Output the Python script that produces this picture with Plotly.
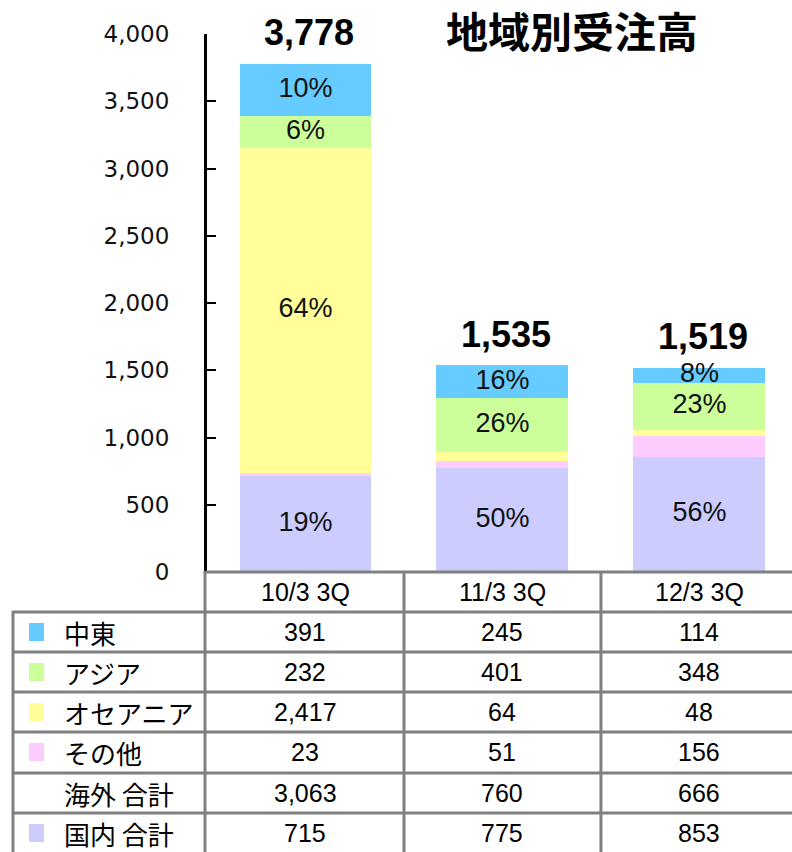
import plotly.graph_objects as go

categories = ["10/3 3Q", "11/3 3Q", "12/3 3Q"]
middle_east = [391, 245, 114]
asia = [232, 401, 348]
oceania = [2417, 64, 48]
other = [23, 51, 156]
overseas_total = [3063, 760, 666]
domestic_total = [715, 775, 853]

title_text = "地域別受注高"
y_ticks = [0, 500, 1000, 1500, 2000, 2500, 3000, 3500, 4000]

# stack order bottom -> top
stack = [
    ("国内 合計", domestic_total, "#CCCCFF"),
    ("その他", other, "#FFCCFF"),
    ("オセアニア", oceania, "#FFFF99"),
    ("アジア", asia, "#CCFF99"),
    ("中東", middle_east, "#66CCFF"),
]
show_pct = {"国内 合計": 0, "その他": None, "オセアニア": 10, "アジア": 0, "中東": 0}

totals = [d + o for d, o in zip(domestic_total, overseas_total)]

W, H = 792, 852
ML, MR, MT, MB = 207, 0, 34, 280
PH = H - MT - MB
PW = W - ML - MR


def py(p):
    return (H - MB - p) / PH


def px(p):
    return (p - ML) / PW


fig = go.Figure()
cum = [0, 0, 0]
tx, ty, tt = [], [], []
for name, vals, col in stack:
    fig.add_trace(go.Bar(x=categories, y=vals, name=name, marker=dict(color=col, line=dict(width=0)),
                         showlegend=False, hoverinfo="skip"))
    thr = show_pct[name]
    for i, v in enumerate(vals):
        pct = v / totals[i] * 100
        if thr is not None and pct >= thr:
            tx.append(categories[i])
            ty.append(cum[i] + v / 2)
            tt.append(f"{pct:.0f}%")
        cum[i] += v

fig.add_trace(go.Scatter(x=tx, y=ty, text=tt, mode="text", showlegend=False, hoverinfo="skip",
                         cliponaxis=False,
                         textfont=dict(family="Liberation Sans, Arial", size=27, color="#111")))

# totals above bars
for c, t in zip(categories, totals):
    fig.add_annotation(x=c, y=t, xref="x", yref="y", text=f"<b>{t:,}</b>", showarrow=False,
                       yanchor="middle", yshift=31, xshift=4,
                       font=dict(family="Liberation Sans, Arial", size=36, color="#000"))

# title
fig.add_annotation(x=px(572), y=py(30), xref="paper", yref="paper", text=f"<b>{title_text}</b>",
                   showarrow=False, xanchor="center", yanchor="middle",
                   font=dict(family="Noto Sans CJK JP", size=42, color="#000"))

# ---- data table ----
grid = "#808080"
lw = 3
row_lines = [572, 612, 652, 692, 732, 773, 813]
header_y = 592
rows = [
    ("中東", middle_east, "#66CCFF"),
    ("アジア", asia, "#CCFF99"),
    ("オセアニア", oceania, "#FFFF99"),
    ("その他", other, "#FFCCFF"),
    ("海外 合計", overseas_total, None),
    ("国内 合計", domestic_total, "#CCCCFF"),
]
row_centers = [632, 672, 712, 752, 793, 833]

fig.add_shape(type="line", xref="paper", yref="paper", x0=px(206), x1=1.02, y0=py(572), y1=py(572),
              line=dict(color=grid, width=lw))
for r in row_lines[1:]:
    fig.add_shape(type="line", xref="paper", yref="paper", x0=px(12), x1=1.02, y0=py(r), y1=py(r),
                  line=dict(color=grid, width=lw))
fig.add_shape(type="line", xref="paper", yref="paper", x0=px(13), x1=px(13), y0=py(611), y1=py(H + 5),
              line=dict(color=grid, width=lw))
fig.add_shape(type="line", xref="paper", yref="paper", x0=px(205), x1=px(205), y0=py(571), y1=py(H + 5),
              line=dict(color=grid, width=lw))
for xb in [0.5, 1.5]:
    fig.add_shape(type="line", xref="x", yref="paper", x0=xb, x1=xb, y0=py(571), y1=py(H + 5),
                  line=dict(color=grid, width=lw))

num_font = dict(family="Liberation Sans, Arial", size=25, color="#000")
for c in categories:
    fig.add_annotation(x=c, y=py(header_y), xref="x", yref="paper", text=c, showarrow=False,
                       xanchor="center", yanchor="middle", font=num_font)

for (label, vals, col), yc in zip(rows, row_centers):
    if col:
        fig.add_shape(type="rect", xref="paper", yref="paper", x0=px(29), x1=px(44),
                      y0=py(yc - 9), y1=py(yc + 9), fillcolor=col, line=dict(width=0))
    fig.add_annotation(x=px(62), y=py(yc), xref="paper", yref="paper", text=label, showarrow=False,
                       xanchor="left", yanchor="middle",
                       font=dict(family="Noto Sans CJK JP", size=26, color="#000"))
    for c, v in zip(categories, vals):
        fig.add_annotation(x=c, y=py(yc), xref="x", yref="paper", text=f"{v:,}", showarrow=False,
                           xanchor="center", yanchor="middle", font=num_font)

fig.update_layout(
    width=W, height=H,
    margin=dict(l=ML, r=MR, t=MT, b=MB),
    barmode="stack", bargap=0.33,
    plot_bgcolor="white", paper_bgcolor="white",
    xaxis=dict(range=[-0.5, 2.47], showticklabels=False, showline=False, showgrid=False,
               zeroline=False, ticks=""),
    yaxis=dict(range=[0, 4000], tickvals=y_ticks, tickformat=",", showgrid=False, zeroline=False,
               showline=True, linecolor="#000", linewidth=3, ticks="inside", ticklen=9,
               tickwidth=2, tickcolor="#000", ticklabelstandoff=30,
               tickfont=dict(family="DejaVu Sans", size=23, color="#111")),
)

fig.write_html("out.html", config={"displayModeBar": False},
               post_script="document.body.style.margin='0px';document.body.style.overflow='hidden';")
